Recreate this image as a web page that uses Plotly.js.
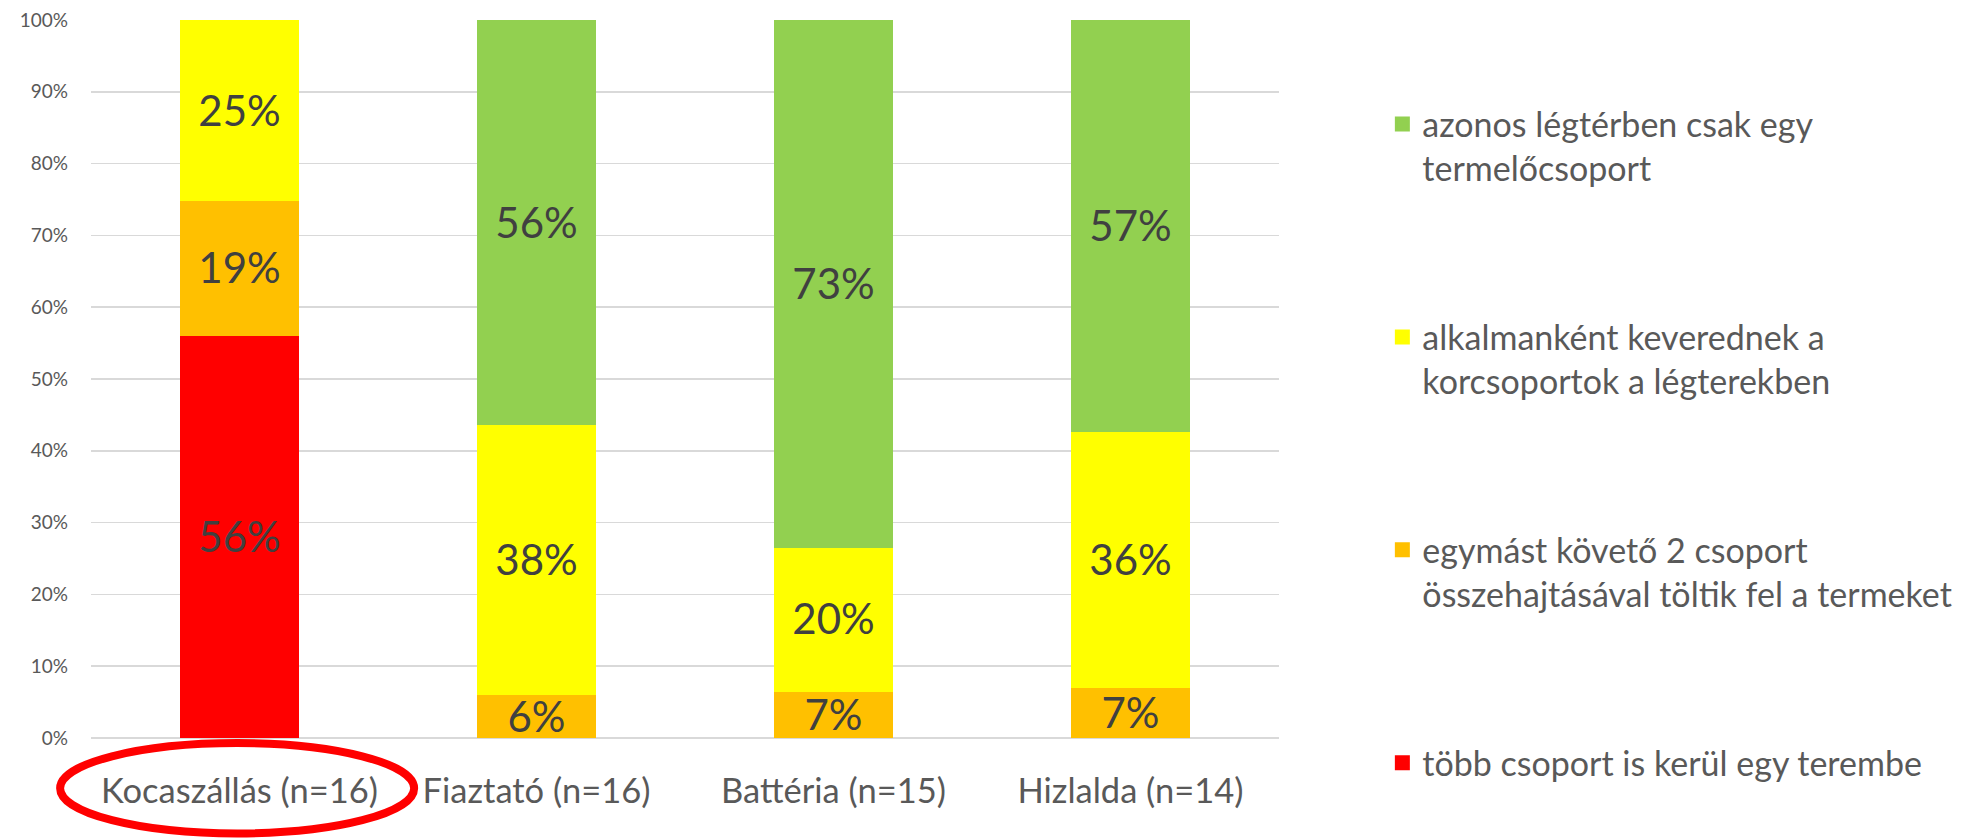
<!DOCTYPE html>
<html>
<head>
<meta charset="utf-8">
<script src="https://cdn.plot.ly/plotly-3.0.1.min.js"></script>
<style>html,body{margin:0;padding:0;background:#fff;}#chart{width:1972px;height:838px;}</style>
</head>
<body>
<div id="chart"></div>
<script>
// Categories and series values (percent)
const categories = ['Kocaszállás (n=16)', 'Fiaztató (n=16)', 'Battéria (n=15)', 'Hizlalda (n=14)'];
const seriesNames = [
  'több csoport is kerül egy terembe',
  'egymást követő 2 csoport<br>összehajtásával töltik fel a termeket',
  'alkalmanként keverednek a<br>korcsoportok a légterekben',
  'azonos légtérben csak egy<br>termelőcsoport'
];
const tobbCsoport = [56.25, null, null, null];
const egymastKoveto = [18.75, 6.25, 6.67, 7.14];
const alkalmankent = [25, 37.5, 20, 35.71];
const azonosLegter = [null, 56.25, 73.33, 57.14];
const yTicks = [0, 10, 20, 30, 40, 50, 60, 70, 80, 90, 100];

const colors = ['#FF0000', '#FFC000', '#FFFF00', '#92D050'];
const FONT = 'Lato, "Open Sans", sans-serif';

const seriesValues = [tobbCsoport, egymastKoveto, alkalmankent, azonosLegter];
const traces = seriesValues.map((vals, i) => ({
  type: 'bar',
  name: seriesNames[i],
  x: categories,
  y: vals,
  marker: {color: colors[i], line: {width: 3, color: colors[i]}},
  texttemplate: '%{y:.0f}%',
  textposition: 'inside',
  insidetextanchor: 'middle',
  textangle: 0,
  constraintext: 'none',
  textfont: {family: FONT, size: 42, color: '#404040'},
  legendgroup: 'g' + i,
  legendrank: 4 - i,
  hoverinfo: 'skip'
}));

const layout = {
  width: 1972,
  height: 838,
  barmode: 'stack',
  bargap: 0.609,
  paper_bgcolor: '#ffffff',
  plot_bgcolor: '#ffffff',
  margin: {l: 91, r: 693, t: 20, b: 100, pad: 0},
  font: {family: FONT, color: '#595959'},
  xaxis: {
    type: 'category',
    showgrid: false,
    showline: false,
    zeroline: false,
    ticks: '',
    ticklabelstandoff: 29,
    tickfont: {family: FONT, size: 34.5, color: '#595959'}
  },
  yaxis: {
    range: [0, 100],
    tickvals: yTicks,
    ticktext: yTicks.map(v => v + '%'),
    showgrid: true,
    gridcolor: '#d9d9d9',
    gridwidth: 1.5,
    zeroline: true,
    zerolinecolor: '#d9d9d9',
    zerolinewidth: 1.5,
    showline: false,
    ticks: '',
    ticklabelstandoff: 22,
    tickfont: {family: FONT, size: 19, color: '#595959'}
  },
  legend: {
    x: 1.087,
    xanchor: 'left',
    y: 0.895,
    yanchor: 'top',
    traceorder: 'grouped',
    tracegroupgap: 121.5,
    valign: 'top',
    font: {family: FONT, size: 34, color: '#595959'},
    bgcolor: 'rgba(0,0,0,0)'
  },
  shapes: [{
    type: 'circle',
    xref: 'paper', yref: 'paper',
    x0: -0.026, x1: 0.272,
    y0: -0.007, y1: -0.133,
    line: {color: '#FF0000', width: 8},
    fillcolor: 'rgba(0,0,0,0)'
  }],
  showlegend: true
};

Plotly.newPlot('chart', traces, layout, {displayModeBar: false, staticPlot: true});
</script>
</body>
</html>
